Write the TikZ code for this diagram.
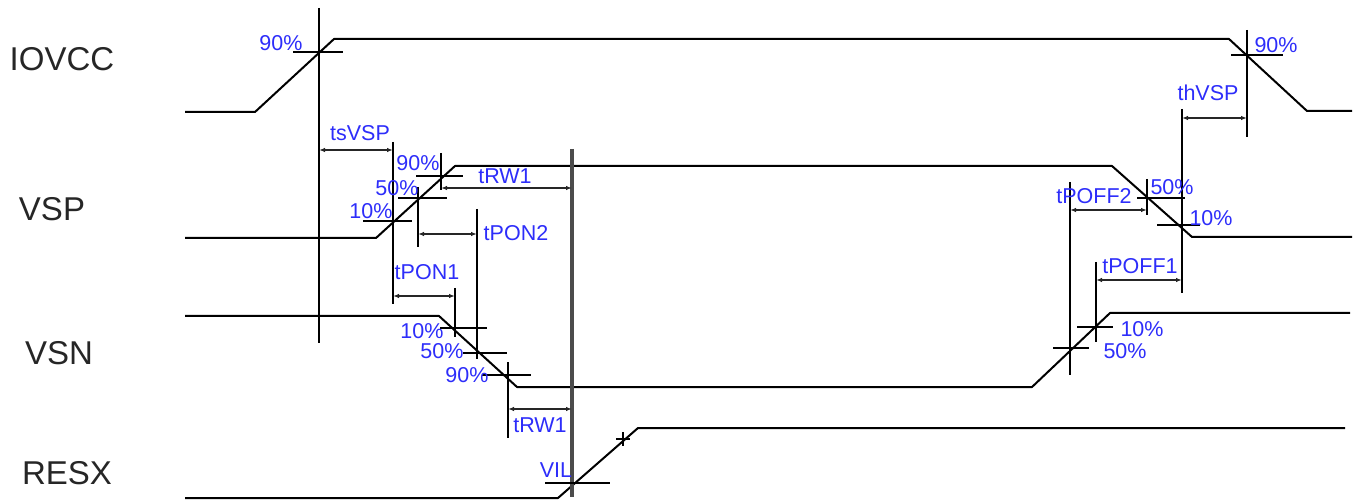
\documentclass[tikz,border=0pt]{standalone}
\usepackage{fontspec}
\setmainfont{Liberation Sans}
\usetikzlibrary{arrows.meta}
\definecolor{lblblue}{RGB}{45,45,250}

\begin{document}
\begin{tikzpicture}[x=1pt, y=-1pt, line width=2pt, >={Latex[length=6pt,width=4.5pt]},
    sig/.style={line width=2pt, line join=round},
    cursor/.style={line width=2pt},
    dim/.style={<->, line width=1.3pt, draw=black!85},
    lbl/.style={text=lblblue, font=\fontsize{21.5}{22}\selectfont, inner sep=0pt},
    signame/.style={text=black!85, font=\fontsize{33}{36}\selectfont, inner sep=0pt}]
    \useasboundingbox (0,0) rectangle (1359,502);

    % signal names
    \node[signame] (iovcc) at (62,59) {IOVCC};
    \node[signame] (vsp) at (52,209) {VSP};
    \node[signame] (vsn) at (59,353) {VSN};
    \node[signame] (resx) at (67,473) {RESX};

    % waveforms
    \draw[sig] (185,112) -- (255,112) -- (334,39) -- (1229,39) -- (1307,111) -- (1352,111);
    \draw[sig] (185,238) -- (376,238) -- (455,166) -- (1112,166) -- (1192,237) -- (1352,237);
    \draw[sig] (185,316) -- (439,316) -- (517,387) -- (1032,387) -- (1110,313) -- (1350,313);
    \draw[sig] (185,498) -- (558,498) -- (638,428) -- (1345,428);

    % cursor lines
    \draw[cursor] (319,8) -- (319,343);
    \draw[cursor] (1247,30) -- (1247,137);
    \draw[cursor] (1182,109) -- (1182,293);
    \draw[cursor] (393,142) -- (393,304);
    \draw[cursor] (418,187) -- (418,247);
    \draw[cursor] (441,153) -- (441,190);
    \draw[cursor] (477,209) -- (477,359);
    \draw[cursor] (455,288) -- (455,337);
    \draw[cursor] (508,362) -- (508,438);
    \draw[line width=3.2pt, draw=black!70] (572,149) -- (572,497);
    \draw[cursor] (1070,182) -- (1070,375);
    \draw[cursor] (1147,179) -- (1147,215);
    \draw[cursor] (1096,262) -- (1096,342);

    % level ticks
    \draw[cursor] (293,52) -- (343,52);
    \draw[cursor] (1231,55) -- (1283,55);
    \draw[cursor] (363,221) -- (412,221);
    \draw[cursor] (398,198) -- (447,198);
    \draw[cursor] (416,176) -- (463,176);
    \draw[cursor] (440,328) -- (487,328);
    \draw[cursor] (463,353) -- (507,353);
    \draw[cursor] (482,375) -- (531,375);
    \draw[cursor] (545,483) -- (610,483);
    \draw[cursor] (1137,198) -- (1185,198);
    \draw[cursor] (1157,225) -- (1200,225);
    \draw[cursor] (1077,327) -- (1113,327);
    \draw[cursor] (1053,348) -- (1089,348);
    \draw[line width=1.4pt] (616,439) -- (630,439) (623,432) -- (623,446);

    % timing arrows
    \draw[dim] (319,150) -- (393,150);
    \draw[dim] (441,188) -- (572,188);
    \draw[dim] (418,234) -- (477,234);
    \draw[dim] (393,296) -- (455,296);
    \draw[dim] (508,409) -- (572,409);
    \draw[dim] (1182,118) -- (1247,118);
    \draw[dim] (1070,210) -- (1147,210);
    \draw[dim] (1096,280) -- (1182,280);

    % labels
    \node[lbl] (iovccA) at (281,43) {90\%};
    \node[lbl] (iovccB) at (1276,45) {90\%};
    \node[lbl] (thvsp) at (1208,93) {thVSP};
    \node[lbl] (tsvsp) at (360,133) {tsVSP};
    \node[lbl] (vspA) at (418,163) {90\%};
    \node[lbl] (vspB) at (397,188) {50\%};
    \node[lbl] (vspC) at (371,211) {10\%};
    \node[lbl] (trwA) at (505,176) {tRW1};
    \node[lbl] (tpon2) at (516,233) {tPON2};
    \node[lbl] (tpon1) at (427,272) {tPON1};
    \node[lbl] (vsnA) at (422,331) {10\%};
    \node[lbl] (vsnB) at (442,351) {50\%};
    \node[lbl] (vsnC) at (467,375) {90\%};
    \node[lbl] (trwB) at (540,425) {tRW1};
    \node[lbl] (vil) at (556,470) {VIL};
    \node[lbl] (tpoff2) at (1094,196) {tPOFF2};
    \node[lbl] (vspD) at (1172,187) {50\%};
    \node[lbl] (vspE) at (1211,218) {10\%};
    \node[lbl] (tpoff1) at (1140,266) {tPOFF1};
    \node[lbl] (vsnD) at (1142,329) {10\%};
    \node[lbl] (vsnE) at (1125,351) {50\%};
\end{tikzpicture}
\end{document}
